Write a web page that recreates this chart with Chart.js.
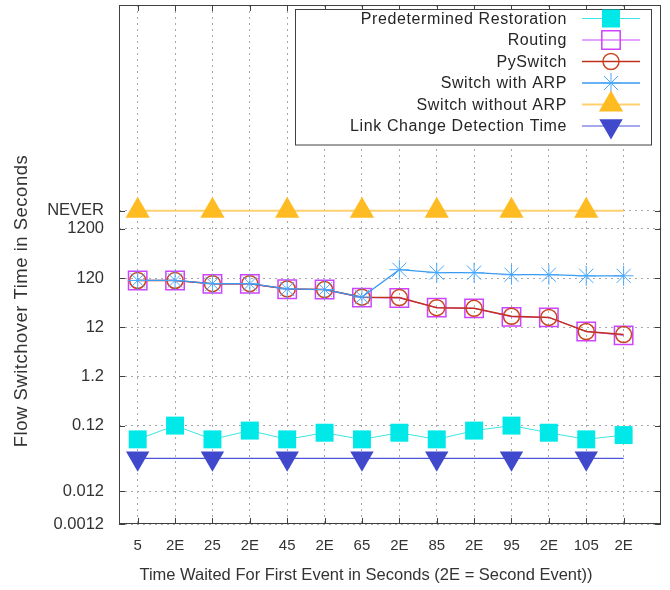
<!DOCTYPE html>
<html><head><meta charset="utf-8">
<script src="https://cdn.jsdelivr.net/npm/chart.js@4.4.0/dist/chart.umd.min.js"></script>
<style>html,body{margin:0;padding:0;background:#fff;} #wrap{width:670px;height:590px;position:relative;}</style>
</head><body><div id="wrap"><canvas id="c" width="670" height="590"></canvas></div>
<script>
// ---- data ----
const categories = ['5','2E','25','2E','45','2E','65','2E','85','2E','95','2E','105','2E'];
const NEVER = 2800;
const yTickValues = [0.0012, 0.0056, 0.12, 1.2, 12, 120, 1200, NEVER];
const yTickLabels = ['0.0012','0.012','0.12','1.2','12','120','1200','NEVER'];
const seriesNames = ['Predetermined Restoration','Routing','PySwitch','Switch with ARP','Switch without ARP','Link Change Detection Time'];
const predetermined = [0.063,0.12,0.063,0.095,0.063,0.086,0.063,0.086,0.063,0.095,0.12,0.086,0.063,0.077];
const routing      = [107,107,91,91,71,70,48,47,30,29,19.5,19,9.8,8.2];
const pyswitch     = [107,107,92,92,72,70,49,48,30,29,20,19,9.8,8.5];
const switchArp    = [107,107,92,92,72,70,49,177,154,154,140,140,133,133];
const switchNoArp  = [2800,2800,2800,2800,2800,2800,2800,2800,2800,2800,2800,2800,2800,2800];
const linkDetect   = [0.026,0.026,0.026,0.026,0.026,0.026,0.026,0.026,0.026,0.026,0.026,0.026,0.026,0.026];
const xTitle = 'Time Waited For First Event in Seconds (2E = Second Event))';
const yTitle = 'Flow Switchover Time in Seconds';

// ---- styles ----
const FONT = "'Liberation Sans', Arial, sans-serif";
const styles = [
  {color:'#00e5e5', line:'#3fe3e3', point:'rect', radius:12.7, fill:'#00e8e8', lw:1, pbw:0},
  {color:'#cc44ff', line:'#cc44ff', point:'rect', radius:13, fill:'rgba(0,0,0,0)', lw:1, pbw:1.5},
  {color:'#c8461e', line:'#c0301e', point:'circle', radius:8, fill:'rgba(0,0,0,0)', lw:1.5, pbw:1.5},
  {color:'#4aa8ff', line:'#3a9af0', point:'star', radius:10, fill:'rgba(0,0,0,0)', lw:1.3, pbw:1},
  {color:'#ffbb22', line:'#ffcf70', point:'triangle', radius:14, fill:'#ffbb22', lw:2, pbw:0, sparse:true},
  {color:'#4048cc', line:'#4a55d8', point:'triangle', rotation:180, radius:13.5, fill:'#4048cc', lw:1.2, pbw:0, sparse:true}
];
const seriesData = [predetermined, routing, pyswitch, switchArp, switchNoArp, linkDetect];

const datasets = seriesData.map((arr, i) => {
  const s = styles[i];
  return {
    label: seriesNames[i],
    data: arr.map((v, k) => ({x: k + 1, y: v})),
    borderColor: s.line,
    borderWidth: s.lw,
    backgroundColor: s.fill,
    pointStyle: s.point,
    pointRotation: s.rotation || 0,
    pointRadius: s.sparse ? (c => categories[c.dataIndex] === '2E' ? 0 : s.radius) : s.radius,
    pointBackgroundColor: s.fill,
    pointBorderColor: s.color,
    pointBorderWidth: s.pbw,
    pointHoverRadius: s.radius,
    tension: 0,
    order: seriesData.length - i,
    clip: false
  };
});

function drawMarker(ctx, s, x, y) {
  ctx.save();
  ctx.fillStyle = s.fill; ctx.strokeStyle = s.color; ctx.lineWidth = s.pbw || 1;
  const r = s.radius;
  ctx.beginPath();
  if (s.point === 'rect') {
    const h = Math.SQRT1_2 * r;
    ctx.rect(x - h, y - h, 2 * h, 2 * h);
    ctx.fill(); if (s.pbw) ctx.stroke();
  } else if (s.point === 'circle') {
    ctx.arc(x, y, r, 0, Math.PI * 2);
    ctx.fill(); if (s.pbw) ctx.stroke();
  } else if (s.point === 'star') {
    for (let a = 0; a < 4; a++) {
      const t = a * Math.PI / 4;
      ctx.moveTo(x - Math.cos(t) * r, y - Math.sin(t) * r);
      ctx.lineTo(x + Math.cos(t) * r, y + Math.sin(t) * r);
    }
    ctx.stroke();
  } else if (s.point === 'triangle') {
    let rad = (s.rotation || 0) * Math.PI / 180;
    for (let k = 0; k < 3; k++) {
      const px = x + Math.sin(rad) * r, py = y - Math.cos(rad) * r;
      if (k === 0) ctx.moveTo(px, py); else ctx.lineTo(px, py);
      rad += 2 * Math.PI / 3;
    }
    ctx.closePath(); ctx.fill();
  }
  ctx.restore();
}

const decor = {
  id: 'decor',
  afterDraw(chart) {
    const {ctx, chartArea: a, scales} = chart;
    const xs = scales.x, ys = scales.y;
    ctx.save();
    // frame
    ctx.strokeStyle = '#404040'; ctx.lineWidth = 1;
    ctx.strokeRect(Math.round(a.left) + 0.5, Math.round(a.top) + 0.5, Math.round(a.right - a.left) - 1, Math.round(a.bottom - a.top) - 1);
    // inward ticks
    ctx.beginPath();
    xs.ticks.forEach(t => {
      const px = Math.round(xs.getPixelForValue(t.value)) + 0.5;
      ctx.moveTo(px, a.bottom); ctx.lineTo(px, a.bottom - 6);
      ctx.moveTo(px, a.top); ctx.lineTo(px, a.top + 6);
    });
    ys.ticks.forEach(t => {
      const py = Math.round(ys.getPixelForValue(t.value)) + 0.5;
      ctx.moveTo(a.left, py); ctx.lineTo(a.left + 6, py);
      ctx.moveTo(a.right, py); ctx.lineTo(a.right - 6, py);
    });
    ctx.stroke();
    // legend
    const bx = 295.5, by = 9.5, bw = 356, bh = 135.5;
    ctx.fillStyle = '#fff'; ctx.fillRect(bx, by, bw, bh);
    ctx.strokeStyle = '#404040'; ctx.strokeRect(bx, by, bw, bh);
    ctx.font = '16px ' + FONT;
    ctx.textAlign = 'right'; ctx.textBaseline = 'middle';
    try { ctx.letterSpacing = '0.6px'; } catch (e) {}
    seriesNames.forEach((name, i) => {
      const y = 18.5 + i * 21.5;
      ctx.fillStyle = '#262626';
      ctx.fillText(name, 567, y + 1);
      const s = styles[i];
      ctx.strokeStyle = s.line; ctx.lineWidth = s.lw;
      ctx.beginPath(); ctx.moveTo(582, y); ctx.lineTo(640, y); ctx.stroke();
      drawMarker(ctx, s, 611, y);
    });
    // axis titles
    ctx.fillStyle = '#333';
    ctx.textAlign = 'center'; ctx.textBaseline = 'middle';
    try { ctx.letterSpacing = '0px'; } catch (e) {}
    ctx.font = '16.5px ' + FONT;
    ctx.fillText(xTitle, 366, 575);
    ctx.save();
    ctx.translate(22, 301); ctx.rotate(-Math.PI / 2);
    try { ctx.letterSpacing = '0.5px'; } catch (e) {}
    ctx.font = '18.5px ' + FONT;
    ctx.fillText(yTitle, 0, 0);
    ctx.restore();
    ctx.restore();
  }
};

new Chart(document.getElementById('c'), {
  type: 'line',
  data: {datasets},
  options: {
    responsive: false,
    animation: false,
    devicePixelRatio: 1,
    layout: {autoPadding: false, padding: {left: 0, top: 5, right: 9, bottom: 0}},
    plugins: {legend: {display: false}, tooltip: {enabled: false}, title: {display: false}},
    scales: {
      x: {
        type: 'linear', min: 0.5, max: 15, bounds: 'data',
        afterBuildTicks: s => { s.ticks = categories.map((c, i) => ({value: i + 1})); },
        afterFit: s => { s.height = 66; s.paddingLeft = 0; s.paddingRight = 0; },
        ticks: {autoSkip: false, maxRotation: 0, padding: 13, color: '#333',
          font: {family: FONT, size: 15},
          callback: (v, i) => categories[i]},
        grid: {color: '#a8a8a8', lineWidth: 1, drawTicks: false},
        border: {display: false, dash: [2, 4]}
      },
      y: {
        type: 'logarithmic', min: 0.0012, max: 4.25e7, bounds: 'data',
        afterBuildTicks: s => { s.ticks = yTickValues.map(v => ({value: v})); },
        afterFit: s => { s.width = 119; s.paddingTop = 0; s.paddingBottom = 0; },
        ticks: {autoSkip: false, padding: 15, color: '#333',
          font: {family: FONT, size: 16.5},
          callback: (v, i) => yTickLabels[i]},
        grid: {color: '#a8a8a8', lineWidth: 1, drawTicks: false},
        border: {display: false, dash: [2, 4]}
      }
    }
  },
  plugins: [decor]
});
</script>
</body></html>
